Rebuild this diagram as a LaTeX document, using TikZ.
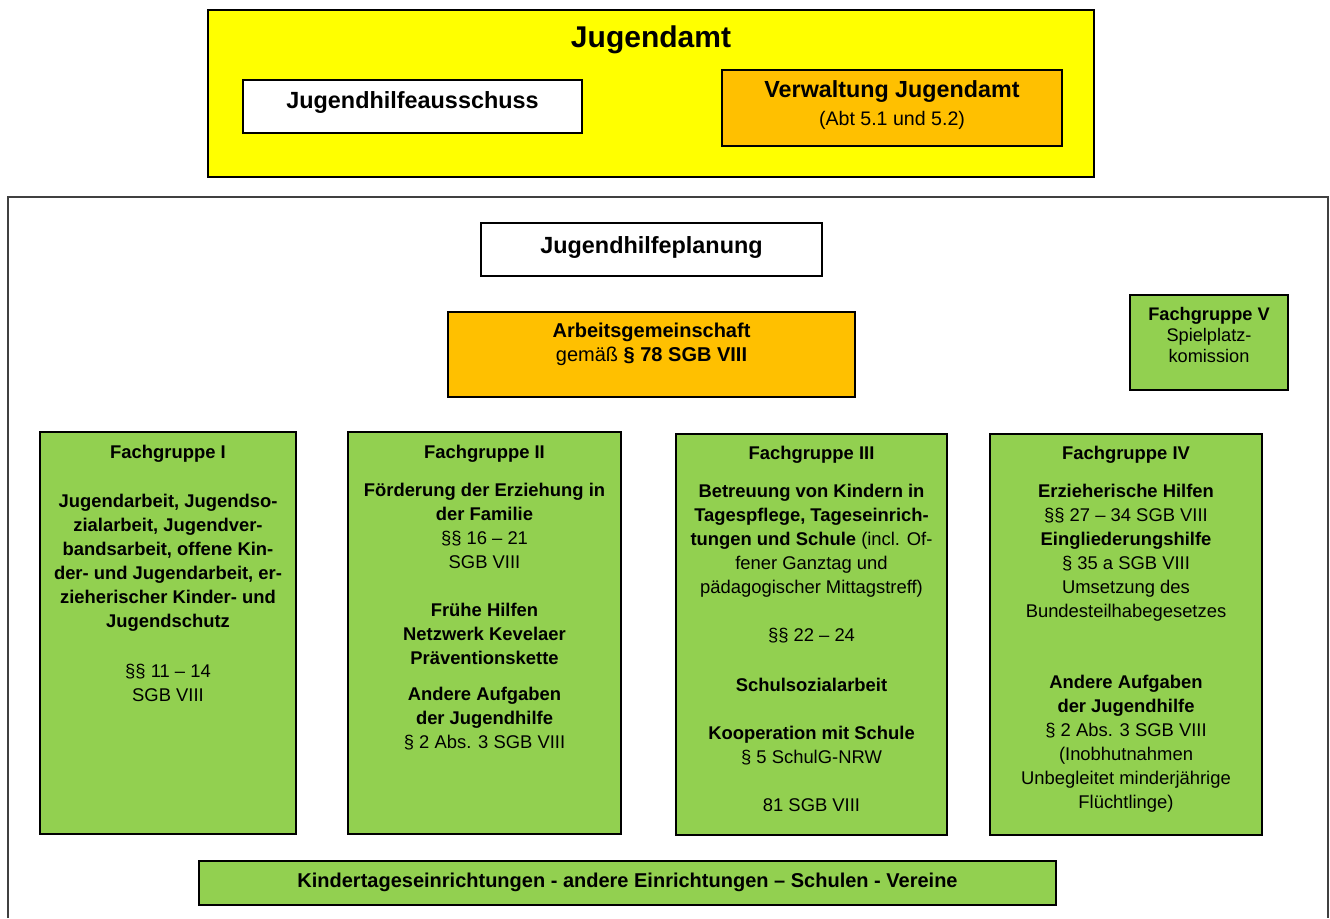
\documentclass[tikz,border=0pt]{standalone}
\usepackage{fontspec}
\setmainfont{Liberation Sans}
\definecolor{amtyellow}{HTML}{FFFF00}
\definecolor{orgorange}{HTML}{FFC000}
\definecolor{fggreen}{HTML}{92D050}
\newcommand\fgfont{\fontsize{18.4}{24}\selectfont}
\begin{document}
\begin{tikzpicture}[x=1pt,y=-1pt,
  box/.style={draw=black, line width=1.3pt, rectangle, inner sep=0pt},
  txt/.style={inner sep=0pt, align=center, text=black},
  fgtext/.style={txt, anchor=north, font=\fgfont}]
\useasboundingbox (0,0) rectangle (1330,918);
\fill[white] (0,0) rectangle (1330,918);

% outer frame
\coordinate (ol) at (8,918);
\coordinate (otl) at (8,197);
\coordinate (otr) at (1328,197);
\coordinate (or) at (1328,918);
\draw[line width=1.2pt, draw=black!75] (ol) -- (otl) -- (otr) -- (or);

% Jugendamt block
\node[box, fill=amtyellow, minimum width=886pt, minimum height=167pt] (amt) at (651,93.5) {};
\node[txt, font=\bfseries\fontsize{30}{34}\selectfont] (amtt) at (651,39.5) {Jugendamt};
\node[box, fill=white, minimum width=339pt, minimum height=53pt] (jha) at (412.5,106.5) {};
\node[txt, font=\bfseries\fontsize{23.4}{27}\selectfont] (jhat) at (412.5,102.5) {Jugendhilfeausschuss};
\node[box, fill=orgorange, minimum width=340pt, minimum height=76pt] (verw) at (892,108) {};
\node[txt, font=\fontsize{23.3}{28}\selectfont] (verwt) at (892,105.5)
  {\textbf{Verwaltung Jugendamt}\\{\fontsize{19.6}{22}\selectfont (Abt 5.1 und 5.2)}};

% planning
\node[box, fill=white, minimum width=341pt, minimum height=53pt] (jhp) at (651.5,249.5) {};
\node[txt, font=\bfseries\fontsize{23.4}{27}\selectfont] (jhpt) at (651.5,247) {Jugendhilfeplanung};

\node[box, fill=orgorange, minimum width=407pt, minimum height=85pt] (ag) at (651.5,354.5) {};
\node[txt, font=\fontsize{20}{24}\selectfont] (agt) at (651.5,344)
  {\textbf{Arbeitsgemeinschaft}\\gemäß \textbf{§ 78 SGB VIII}};

\node[box, fill=fggreen, minimum width=158pt, minimum height=95pt] (fg5) at (1209,342.5) {};
\node[txt, font=\fontsize{18.2}{21}\selectfont] (fg5t) at (1209,334.5)
  {\textbf{Fachgruppe V}\\Spielplatz-\\komission};

% Fachgruppen
\node[box, fill=fggreen, minimum width=256pt, minimum height=402pt] (fg1) at (168,633) {};
\node[fgtext] (fg1t) at (168,445)
  {\textbf{Fachgruppe I}\\[25pt]
   \textbf{Jugendarbeit, Jugendso-}\\
   \textbf{zialarbeit, Jugendver-}\\
   \textbf{bandsarbeit, offene Kin-}\\
   \textbf{der- und Jugendarbeit, er-}\\
   \textbf{zieherischer Kinder- und}\\
   \textbf{Jugendschutz}\\[26pt]
   §§ 11 – 14\\
   SGB VIII};

\node[box, fill=fggreen, minimum width=273pt, minimum height=402pt] (fg2) at (484.5,633) {};
\node[fgtext] (fg2t) at (484.5,445)
  {\textbf{Fachgruppe II}\\[14pt]
   \textbf{Förderung der Erziehung in}\\
   \textbf{der Familie}\\
   §§ 16 – 21\\
   SGB VIII\\[24pt]
   \textbf{Frühe Hilfen}\\
   \textbf{Netzwerk Kevelaer}\\
   \textbf{Präventionskette}\\[12pt]
   \textbf{Andere Aufgaben}\\
   \textbf{der Jugendhilfe}\\
   § 2 Abs. 3 SGB VIII};

\node[box, fill=fggreen, minimum width=271pt, minimum height=401pt] (fg3) at (811.5,634.5) {};
\node[fgtext] (fg3t) at (811.5,446)
  {\textbf{Fachgruppe III}\\[14pt]
   \textbf{Betreuung von Kindern in}\\
   \textbf{Tagespflege, Tageseinrich-}\\
   \textbf{tungen und Schule} (incl. Of-\\
   fener Ganztag und\\
   pädagogischer Mittagstreff)\\[24pt]
   §§ 22 – 24\\[26pt]
   \textbf{Schulsozialarbeit}\\[24pt]
   \textbf{Kooperation mit Schule}\\
   § 5 SchulG-NRW\\[24pt]
   81 SGB VIII};

\node[box, fill=fggreen, minimum width=272pt, minimum height=401pt] (fg4) at (1126,634.5) {};
\node[fgtext] (fg4t) at (1126,446)
  {\textbf{Fachgruppe IV}\\[14pt]
   \textbf{Erzieherische Hilfen}\\
   §§ 27 – 34 SGB VIII\\
   \textbf{Eingliederungshilfe}\\
   § 35 a SGB VIII\\
   Umsetzung des\\
   Bundesteilhabegesetzes\\[47pt]
   \textbf{Andere Aufgaben}\\
   \textbf{der Jugendhilfe}\\
   § 2 Abs. 3 SGB VIII\\
   (Inobhutnahmen\\
   Unbegleitet minderjährige\\
   Flüchtlinge)};

% bottom
\node[box, fill=fggreen, minimum width=857pt, minimum height=44pt] (bot) at (627.5,883) {};
\node[txt, font=\bfseries\fontsize{20}{24}\selectfont] (bott) at (627.5,882)
  {Kindertageseinrichtungen - andere Einrichtungen – Schulen - Vereine};
\end{tikzpicture}
\end{document}
